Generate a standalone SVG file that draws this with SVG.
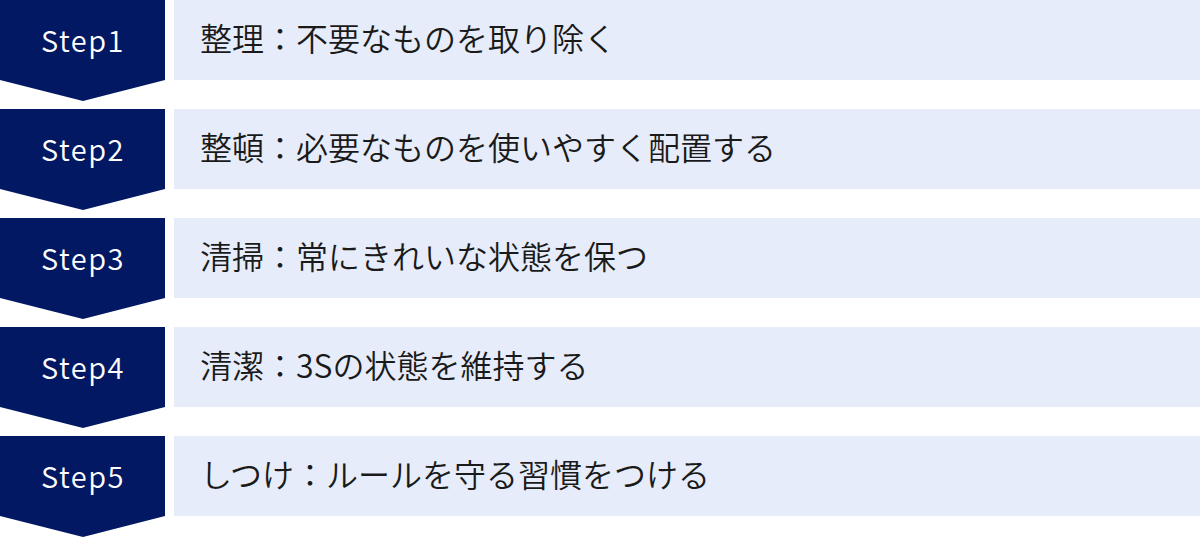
<svg xmlns="http://www.w3.org/2000/svg" width="1200" height="538" viewBox="0 0 1200 538">
<style>
.step{fill:#031862}
.box{fill:#E6ECF9}
.lbl{font-family:"Noto Sans CJK JP","Noto Sans",sans-serif;font-size:29px;font-weight:350;fill:#ffffff;text-anchor:middle;letter-spacing:1.5px}
.txt{font-family:"Noto Sans CJK JP","Noto Sans",sans-serif;font-size:32px;font-weight:350;fill:#1a1a1a}
</style>
<rect width="1200" height="538" fill="#ffffff"/>
<g id="connectors"></g>
<g id="step1">
<polygon class="step" points="0,0 165,0 165,80 83,101 0,80"/>
<rect class="box" x="174" y="0" width="1026" height="80"/>
<text class="lbl" x="83" y="52">Step1</text>
<text class="txt" x="200" y="51">整理：不要なものを取り除く</text>
</g>
<g id="step2">
<polygon class="step" points="0,109 165,109 165,189 83,210 0,189"/>
<rect class="box" x="174" y="109" width="1026" height="80"/>
<text class="lbl" x="83" y="161">Step2</text>
<text class="txt" x="200" y="160">整頓：必要なものを使いやすく配置する</text>
</g>
<g id="step3">
<polygon class="step" points="0,218 165,218 165,298 83,319 0,298"/>
<rect class="box" x="174" y="218" width="1026" height="80"/>
<text class="lbl" x="83" y="270">Step3</text>
<text class="txt" x="200" y="269">清掃：常にきれいな状態を保つ</text>
</g>
<g id="step4">
<polygon class="step" points="0,327 165,327 165,407 83,428 0,407"/>
<rect class="box" x="174" y="327" width="1026" height="80"/>
<text class="lbl" x="83" y="379">Step4</text>
<text class="txt" x="200" y="378">清潔：3Sの状態を維持する</text>
</g>
<g id="step5">
<polygon class="step" points="0,436 165,436 165,516 83,537 0,516"/>
<rect class="box" x="174" y="436" width="1026" height="80"/>
<text class="lbl" x="83" y="488">Step5</text>
<text class="txt" x="200" y="487">しつけ：ルールを守る習慣をつける</text>
</g>
</svg>
